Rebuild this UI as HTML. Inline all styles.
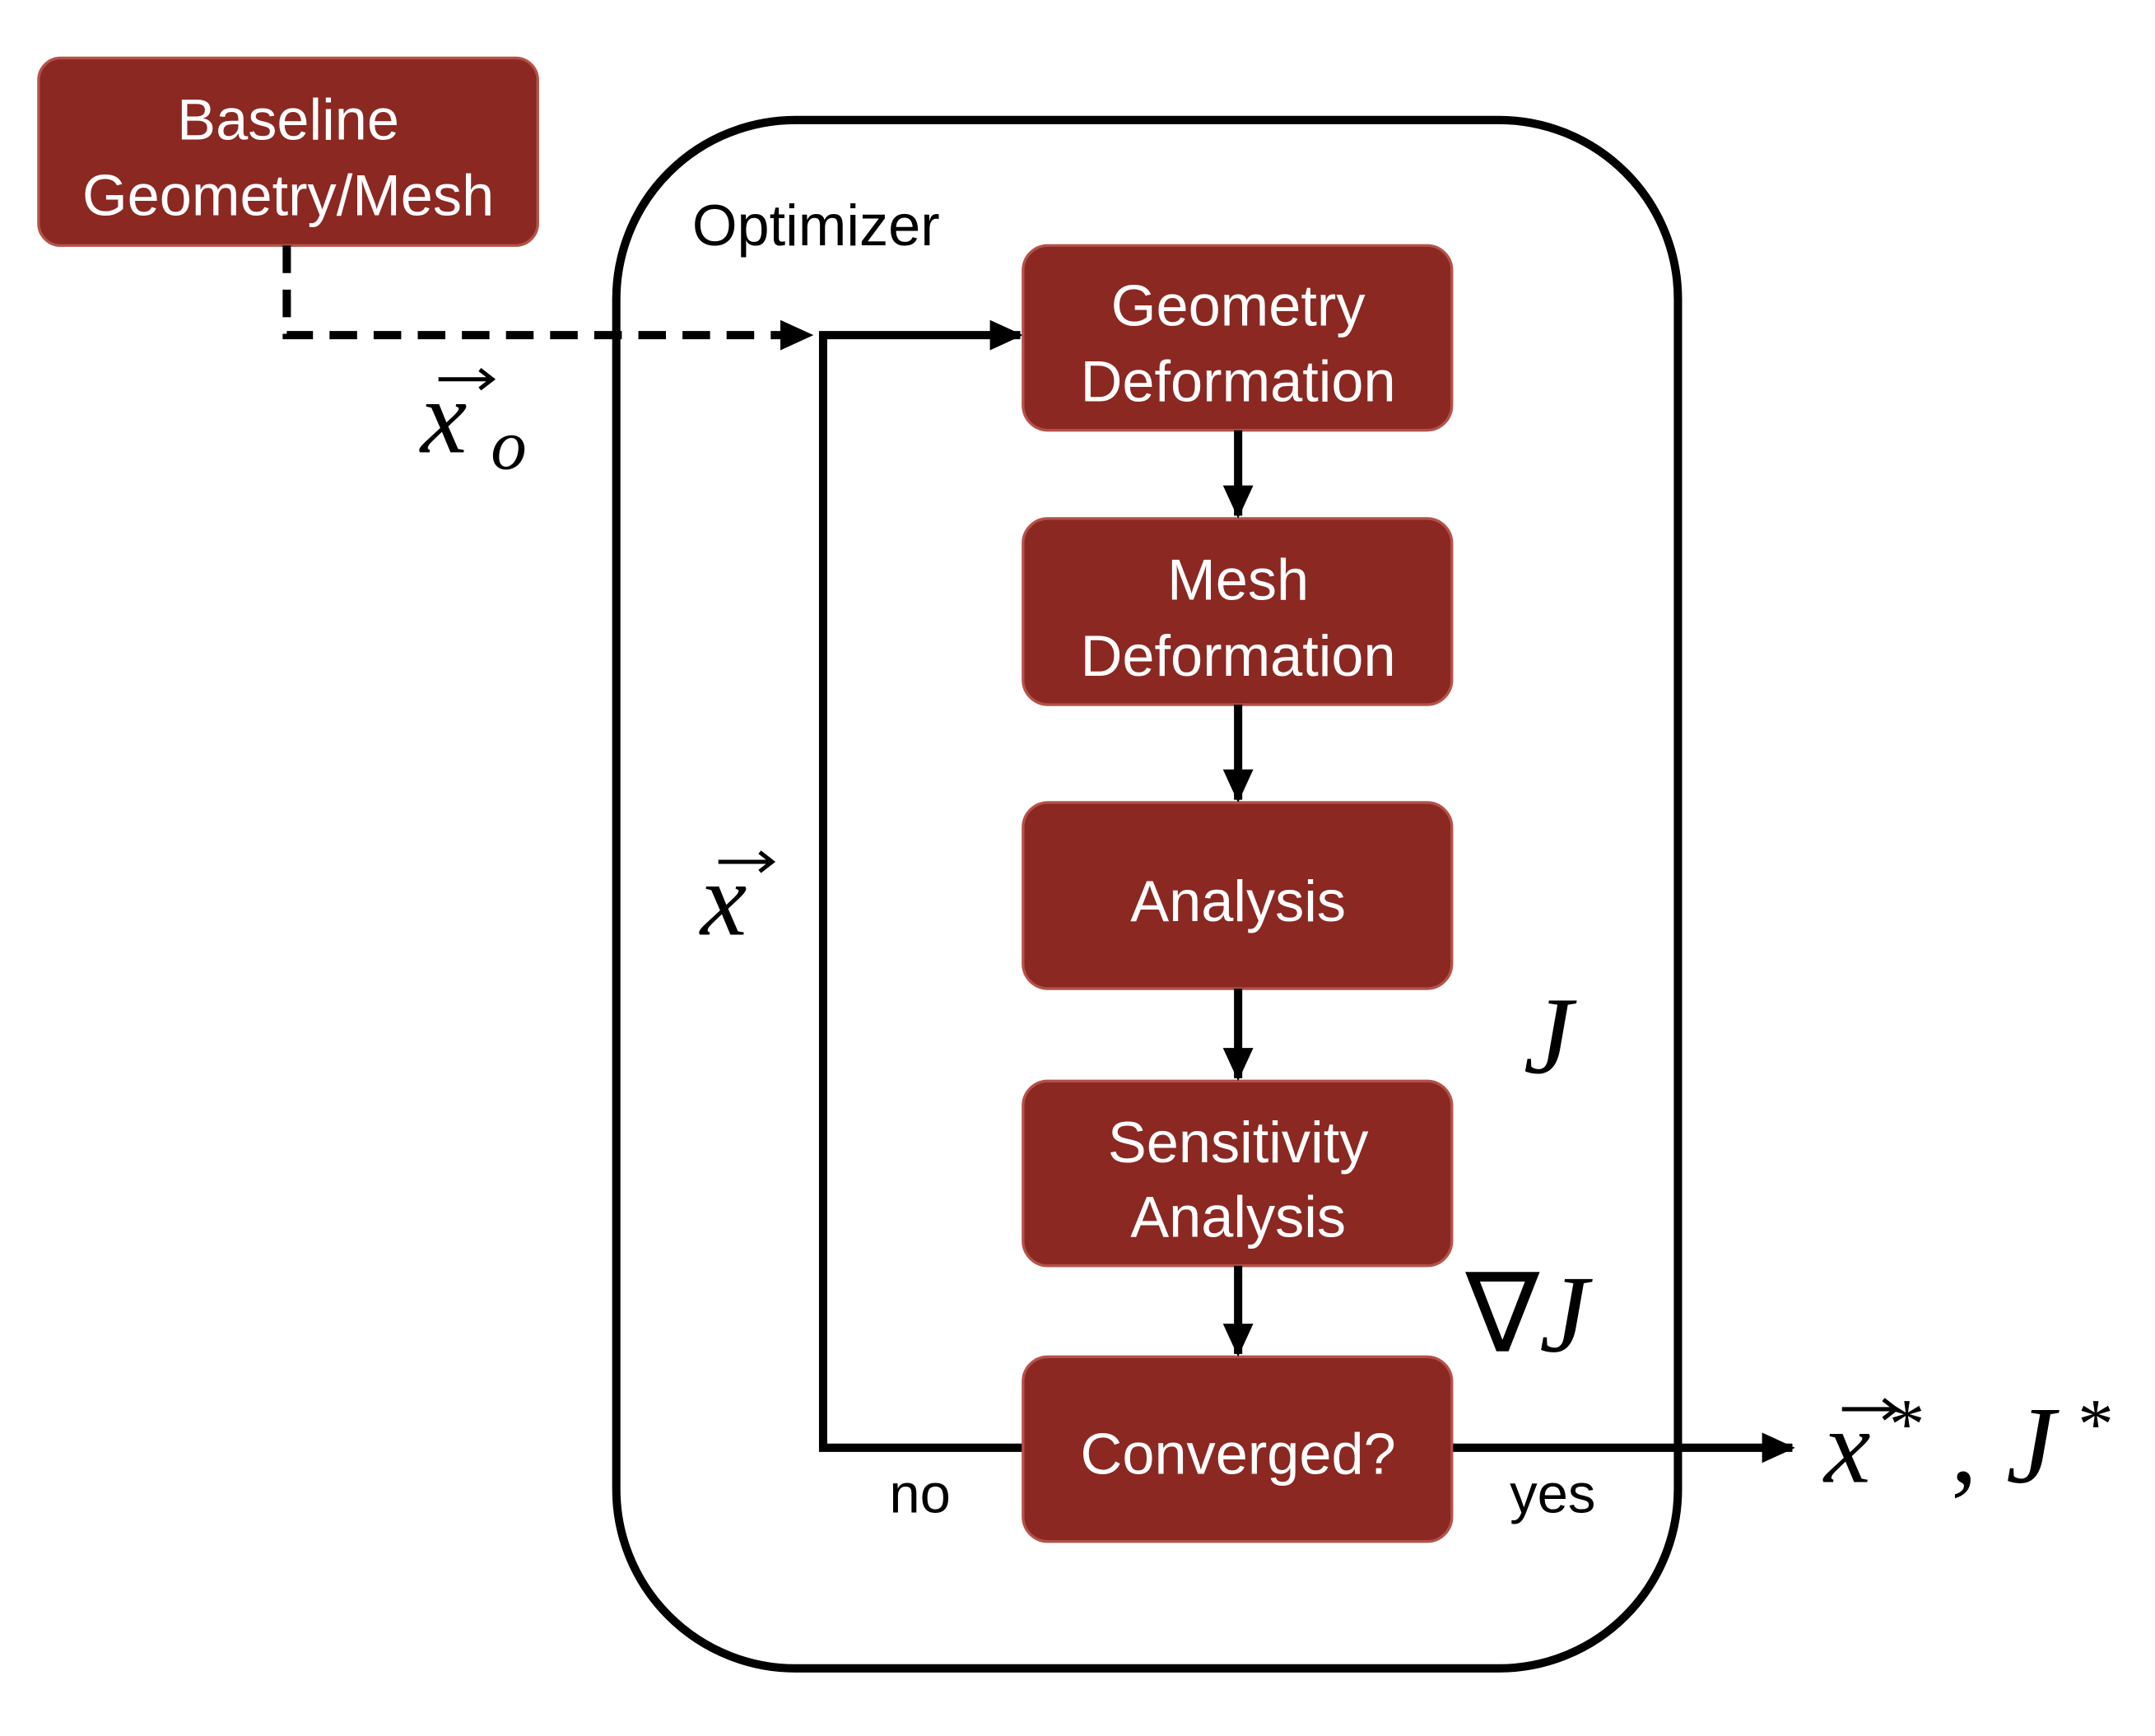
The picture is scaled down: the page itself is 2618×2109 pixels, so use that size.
<!DOCTYPE html>
<html><head><meta charset="utf-8"><style>
html,body{margin:0;padding:0;background:#fff}
svg{display:block}
.bt{font-family:"Liberation Sans",sans-serif;font-size:42px;fill:#fff;text-anchor:middle;font-weight:300}
.m{font-family:"Liberation Serif",serif;font-style:italic;fill:#000}
</style></head><body>
<svg width="2618" height="2109" viewBox="0 0 1563 1259" xmlns="http://www.w3.org/2000/svg">
<defs>
<marker id="ah" markerWidth="10" markerHeight="10" refX="8" refY="5" orient="auto" markerUnits="userSpaceOnUse" viewBox="0 0 10 10">
<path d="M0,0 L10,5 L0,10 z" fill="#000"/></marker>
<marker id="ahb" markerWidth="24" markerHeight="22" refX="22" refY="11" orient="auto" markerUnits="userSpaceOnUse" viewBox="0 0 24 22">
<path d="M0,0 L24,11 L0,22 z" fill="#000"/></marker>
</defs>
<rect x="447" y="87" width="770" height="1123" rx="130" fill="none" stroke="#000" stroke-width="6"/>
<text x="502" y="178" font-family="Liberation Sans, sans-serif" font-size="42" font-weight="300">Optimizer</text>

<g>
<rect x="28" y="42" width="362" height="136" rx="16" fill="#8B2822" stroke="#b4524a" stroke-width="2"/>
<text class="bt" x="209" y="101">Baseline</text>
<text class="bt" x="209" y="156">Geometry/Mesh</text>
</g>

<path d="M208,178 L208,243 L588,243" fill="none" stroke="#000" stroke-width="6" stroke-dasharray="20,12" marker-end="url(#ahb)"/>
<path d="M742,1050 L597,1050 L597,243 L740,243" fill="none" stroke="#000" stroke-width="6" marker-end="url(#ahb)"/>
<path d="M1053,1050 L1300,1050" fill="none" stroke="#000" stroke-width="6" marker-end="url(#ahb)"/>

<g>
<rect x="742" y="178" width="311" height="134" rx="18" fill="#8B2822" stroke="#b4524a" stroke-width="2"/>
<text class="bt" x="898" y="236">Geometry</text><text class="bt" x="898" y="291">Deformation</text></g>
<g>
<rect x="742" y="376" width="311" height="135" rx="18" fill="#8B2822" stroke="#b4524a" stroke-width="2"/>
<text class="bt" x="898" y="435">Mesh</text><text class="bt" x="898" y="490">Deformation</text></g>
<g>
<rect x="742" y="582" width="311" height="135" rx="18" fill="#8B2822" stroke="#b4524a" stroke-width="2"/>
<text class="bt" x="898" y="668">Analysis</text></g>
<g>
<rect x="742" y="784" width="311" height="134" rx="18" fill="#8B2822" stroke="#b4524a" stroke-width="2"/>
<text class="bt" x="898" y="843">Sensitivity</text><text class="bt" x="898" y="897">Analysis</text></g>
<g>
<rect x="742" y="984" width="311" height="134" rx="18" fill="#8B2822" stroke="#b4524a" stroke-width="2"/>
<text class="bt" x="898" y="1069">Converged?</text></g>

<g stroke="#000" stroke-width="6">
<line x1="898" y1="312" x2="898" y2="374" marker-end="url(#ahb)"/>
<line x1="898" y1="511" x2="898" y2="580" marker-end="url(#ahb)"/>
<line x1="898" y1="717" x2="898" y2="782" marker-end="url(#ahb)"/>
<line x1="898" y1="918" x2="898" y2="982" marker-end="url(#ahb)"/>
</g>

<text x="645" y="1097" font-family="Liberation Sans, sans-serif" font-size="40" font-weight="300">no</text>
<text x="1095" y="1097" font-family="Liberation Sans, sans-serif" font-size="40" font-weight="300">yes</text>

<g>
<text class="m" x="305" y="328" font-size="76">x</text><text class="m" x="356" y="340" font-size="52">o</text>
<path d="M318,275 L356,275 M348,268 L357,275 L348,282" stroke="#000" stroke-width="3" fill="none"/></g>
<g>
<text class="m" x="508" y="678" font-size="76">x</text>
<path d="M521,625 L559,625 M551,618 L560,625 L551,632" stroke="#000" stroke-width="3" fill="none"/></g>
<text class="m" x="1105" y="778" font-size="80">J</text>
<text x="1063" y="980" font-size="80" font-family="Liberation Serif, serif"><tspan>∇</tspan><tspan font-style="italic">J</tspan></text>
<g>
<text class="m" x="1323" y="1075" font-size="76">x</text>
<text x="1370" y="1050" font-size="52" font-family="Liberation Serif, serif">*</text>
<text x="1415" y="1075" font-size="76" font-family="Liberation Serif, serif">,</text>
<text class="m" x="1455" y="1075" font-size="80">J</text>
<text x="1507" y="1050" font-size="52" font-family="Liberation Serif, serif">*</text>
<path d="M1336,1022 L1374,1022 M1366,1015 L1375,1022 L1366,1029" stroke="#000" stroke-width="3" fill="none"/></g>
</svg>
</body></html>
